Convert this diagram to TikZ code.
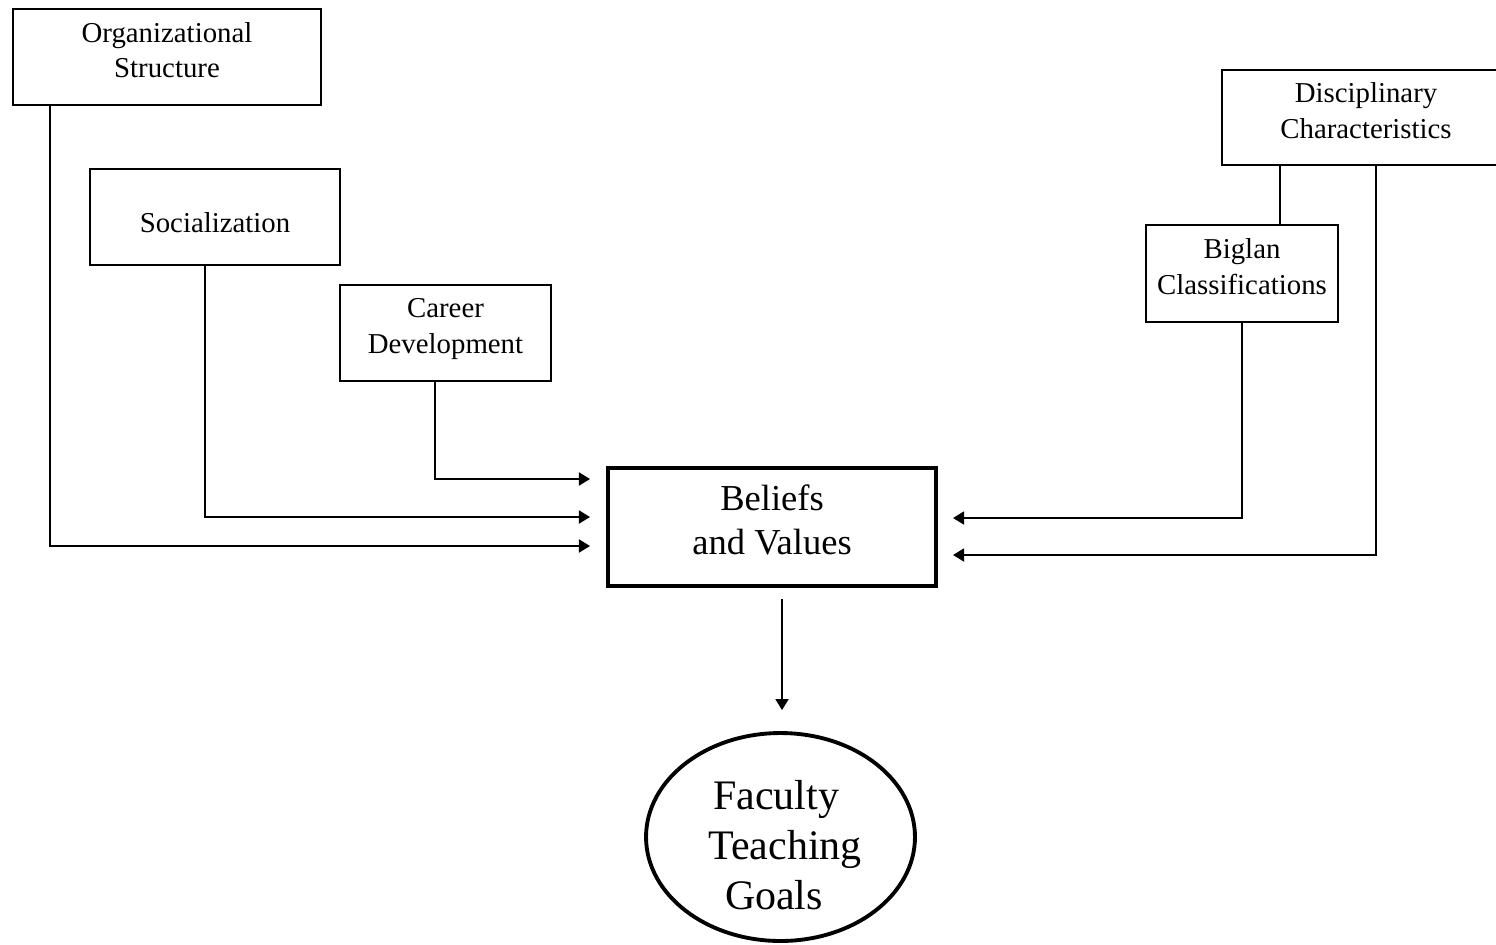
\documentclass[tikz,border=0pt]{standalone}
\usepackage{fontspec}
\setmainfont{Liberation Serif}
\usetikzlibrary{arrows.meta, shapes.geometric, positioning}

\begin{document}
\begin{tikzpicture}[x=0.02cm, y=-0.02cm,
        box/.style={draw, line width=1.1pt, align=center, inner sep=0pt, minimum height=1.92cm,
            text depth=8pt, font=\fontsize{16.4}{20}\selectfont},
        arr/.style={line width=1.1pt, -{Triangle[length=6.3pt, width=7.4pt]}}]
        % Page frame
        \useasboundingbox (0,0) rectangle (1496,944);
        \clip (0,0) rectangle (1496,944);

        % Influences on the left
        \node[box, minimum width=6.16cm] (org) at (167,57) {Organizational\\Structure};
        \node[box, minimum width=5cm, text height=18pt, text depth=0pt] (soc) at (215,217) {Socialization};
        \node[box, minimum width=4.22cm] (car) at (445.5,333) {Career\\Development};

        % Influences on the right
        \node[box, minimum width=5.76cm, minimum height=1.9cm] (disc) at (1366,117.5) {Disciplinary\\Characteristics};
        \node[box, minimum width=3.84cm, minimum height=1.94cm] (big) at (1242,273.5) {Biglan\\Classifications};

        % Beliefs and Values
        \node[draw, line width=2.3pt, align=center, minimum width=6.56cm, minimum height=2.36cm,
            text depth=8pt, font=\fontsize{20.8}{25}\selectfont] (bv) at (772,527) {Beliefs\\and Values};

        % Faculty Teaching Goals
        \node[draw, ellipse, line width=2.2pt, align=center, inner sep=0pt, minimum width=5.38cm, minimum height=4.16cm,
            text height=82.5pt, text depth=0pt, font=\fontsize{23.9}{28.5}\selectfont] (goals) at (780.5,837)
            {Faculty\rule{0.18cm}{0pt}\\\rule{0.18cm}{0pt}Teaching\\Goals\rule{0.26cm}{0pt}};

        % Arrow ends beside the box
        \coordinate (inorg) at (590,546);
        \coordinate (insoc) at (590,517);
        \coordinate (incar) at (590,479);
        \coordinate (inbig) at (953,518);
        \coordinate (indisc) at (953,555);

        % Connectors
        \draw[arr] (org.south -| 50,0) |- (inorg);
        \draw[arr] (soc.south -| 205,0) |- (insoc);
        \draw[arr] (car.south -| 435,0) |- (incar);
        \draw[arr] (big.south) |- (inbig);
        \draw[arr] (disc.south -| 1376,0) |- (indisc);
        \draw[line width=1.1pt] (disc.south -| 1280,0) -- (big.north -| 1280,0);
        \draw[arr, shorten <=0.22cm, shorten >=0.42cm] (bv.south -| 782,0) -- (goals.north -| 782,0);
    \end{tikzpicture}
\end{document}
